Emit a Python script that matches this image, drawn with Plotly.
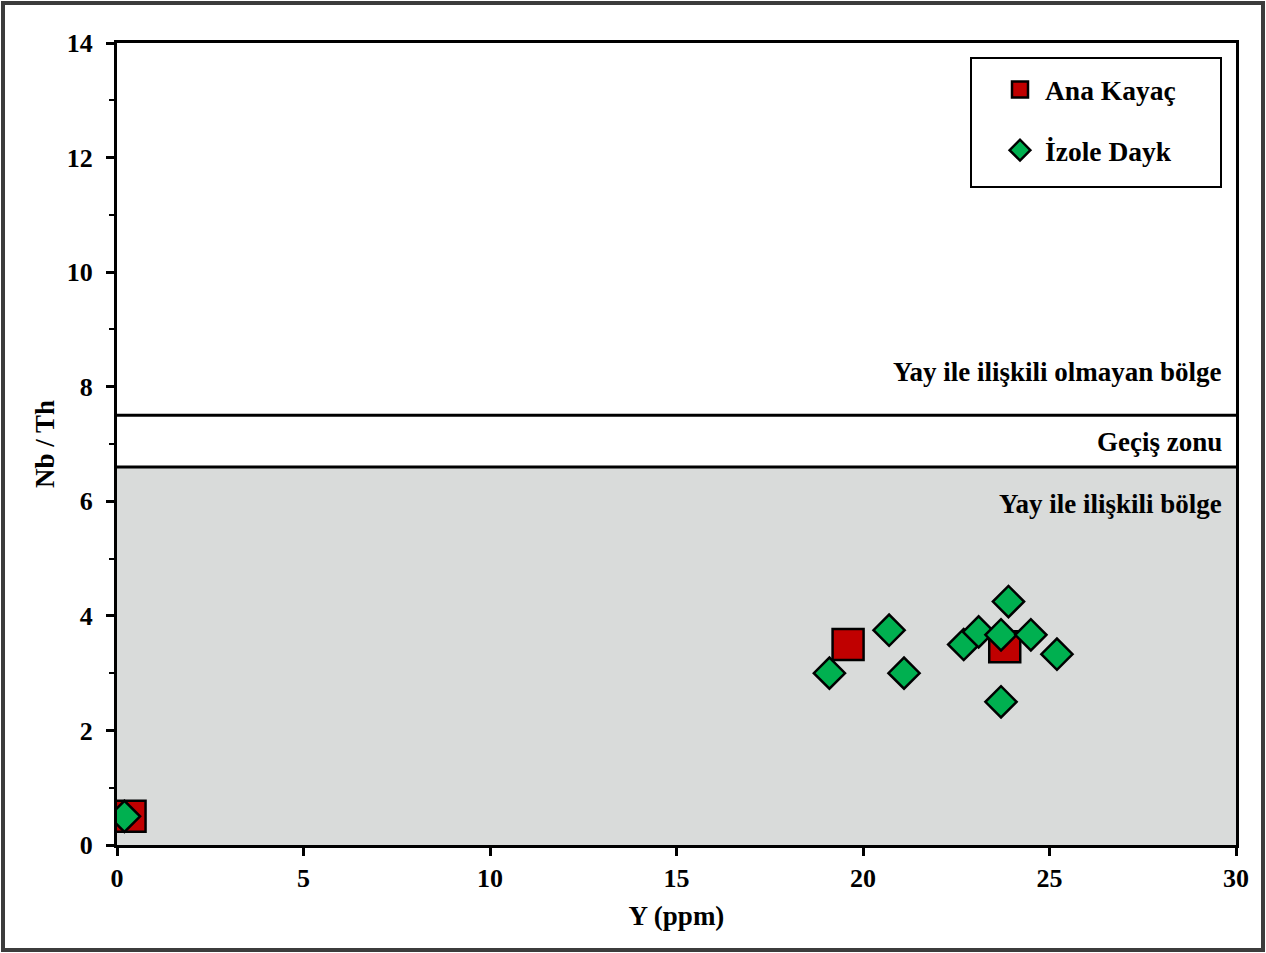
import plotly.graph_objects as go

# Data
ana_x = [0.35, 19.6, 23.8]
ana_y = [0.5, 3.5, 3.46]
izole_x = [0.2, 19.1, 20.7, 21.1, 22.7, 23.1, 23.9, 23.7, 24.5, 25.2, 23.7]
izole_y = [0.5, 3.0, 3.75, 3.0, 3.5, 3.72, 4.25, 3.67, 3.67, 3.33, 2.5]

zone_low = 6.6
zone_high = 7.5
x_range = [0, 30]
y_range = [0, 14]

FONT = "Liberation Serif"

fig = go.Figure()

# Regions
fig.add_shape(type="rect", xref="x", yref="y", x0=0, x1=30, y0=0, y1=zone_low,
              fillcolor="#D9DBDA", line=dict(width=0), layer="below")
fig.add_shape(type="line", xref="x", yref="y", x0=0, x1=30, y0=zone_low, y1=zone_low,
              line=dict(color="black", width=3), layer="below")
fig.add_shape(type="line", xref="x", yref="y", x0=0, x1=30, y0=zone_high, y1=zone_high,
              line=dict(color="black", width=3), layer="below")

fig.add_trace(go.Scatter(
    x=ana_x, y=ana_y, mode="markers", name="<b>Ana Kayaç</b>", legendgroup="a",
    marker=dict(symbol="square", size=31, color="#C00000",
                line=dict(color="black", width=2.5))))
fig.add_trace(go.Scatter(
    x=izole_x, y=izole_y, mode="markers", name="<b>İzole Dayk</b>", legendgroup="b",
    marker=dict(symbol="diamond", size=24, color="#00B050",
                line=dict(color="black", width=2.5))))

labels = [("Yay ile ilişkili olmayan bölge", 8.26),
          ("Geçiş zonu", 7.04),
          ("Yay ile ilişkili bölge", 5.95)]
for txt, yv in labels:
    fig.add_annotation(x=29.68, y=yv, xref="x", yref="y", text="<b>" + txt + "</b>",
                       showarrow=False, xanchor="right", yanchor="middle",
                       font=dict(family=FONT, size=27, color="black"))

# Pixel -> paper helpers
W, H = 1266, 953
L, R, T, B = 117, 30, 43, 108
pw, ph = W - L - R, H - T - B
def px(xp):
    return (xp - L) / pw
def py(yp):
    return (H - B - yp) / ph

# Outer border
fig.add_shape(type="rect", xref="paper", yref="paper",
              x0=px(3), x1=px(1263), y0=py(950), y1=py(3),
              line=dict(color="#3C3C3C", width=4), fillcolor="rgba(0,0,0,0)")
# Legend box
fig.add_shape(type="rect", xref="paper", yref="paper",
              x0=px(971), x1=px(1221), y0=py(187), y1=py(58),
              line=dict(color="black", width=2), fillcolor="white", layer="below")

fig.update_layout(
    width=W, height=H,
    margin=dict(l=L, r=R, t=T, b=B),
    paper_bgcolor="white", plot_bgcolor="white",
    font=dict(family=FONT, size=26, color="black"),
    showlegend=True,
    legend=dict(x=px(995), y=py(65), xanchor="left", yanchor="top",
                borderwidth=0, bgcolor="rgba(0,0,0,0)",
                font=dict(family=FONT, size=27.5, color="black"),
                traceorder="grouped", tracegroupgap=22, itemwidth=40),
)
fig.update_xaxes(range=x_range, dtick=5, tick0=0, showgrid=False, zeroline=False,
                 showline=True, linecolor="black", linewidth=3, mirror=True,
                 ticks="outside", ticklen=8, tickwidth=2.5, tickcolor="black",
                 tickfont=dict(family=FONT, size=26, color="black"),
                 title=dict(text="<b>Y (ppm)</b>", font=dict(family=FONT, size=27), standoff=14),
                 tickprefix="<b>", ticksuffix="</b>")
fig.update_yaxes(range=y_range, dtick=2, tick0=0, showgrid=False, zeroline=False,
                 showline=True, linecolor="black", linewidth=3, mirror=True,
                 ticks="outside", ticklen=8, tickwidth=2.5, tickcolor="black",
                 ticklabelstandoff=8,
                 minor=dict(dtick=1, ticks="outside", ticklen=5, tickwidth=2, tickcolor="black"),
                 tickfont=dict(family=FONT, size=26, color="black"),
                 title=dict(text="<b>Nb / Th</b>", font=dict(family=FONT, size=27), standoff=5),
                 tickprefix="<b>", ticksuffix="</b>")

fig.write_html("out.html", config={"displayModeBar": False},
               post_script="document.body.style.margin='0';document.body.style.overflow='hidden';")
